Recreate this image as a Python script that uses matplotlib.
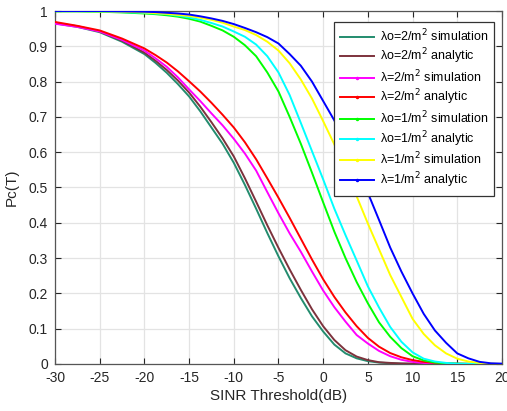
import matplotlib
matplotlib.use("Agg")
import matplotlib.pyplot as plt
from matplotlib.lines import Line2D

plt.rcParams['font.family'] = ['Liberation Sans', 'DejaVu Sans']
plt.rcParams['axes.unicode_minus'] = False

sinr_db = [-30, -27.5, -25, -22.5,
           -20, -18.75, -17.5, -16.25, -15, -13.75, -12.5, -11.25, -10, -8.75, -7.5, -6.25,
           -5, -3.75, -2.5, -1.25, 0, 1.25, 2.5, 3.75, 5, 6.25, 7.5, 8.75,
           10, 11.25, 12.5, 13.75, 15, 16.25, 17.5, 18.75, 20]

lo2_sim = [0.965, 0.955, 0.940, 0.913,
           0.878, 0.853, 0.825, 0.793, 0.758, 0.716, 0.670, 0.624, 0.570, 0.507, 0.440, 0.371,
           0.305, 0.243, 0.187, 0.135, 0.092, 0.055, 0.030, 0.016, 0.008, 0.004, 0.002, 0.001,
           0.0005, 0.0, 0.0, 0.0, 0.0, 0.0, 0.0, 0.0, 0.0]
lo2_ana = [0.966, 0.957, 0.942, 0.916,
           0.882, 0.859, 0.833, 0.803, 0.769, 0.729, 0.685, 0.639, 0.588, 0.526, 0.460, 0.393,
           0.329, 0.268, 0.210, 0.155, 0.107, 0.068, 0.039, 0.021, 0.011, 0.005, 0.003, 0.0015,
           0.001, 0.0, 0.0, 0.0, 0.0, 0.0, 0.0, 0.0, 0.0]
l2_sim = [0.964, 0.955, 0.942, 0.918,
          0.888, 0.866, 0.842, 0.812, 0.778, 0.745, 0.710, 0.676, 0.638, 0.596, 0.548, 0.487,
          0.427, 0.370, 0.318, 0.262, 0.208, 0.161, 0.120, 0.082, 0.058, 0.037, 0.022, 0.012,
          0.006, 0.003, 0.0015, 0.0005, 0.0, 0.0, 0.0, 0.0, 0.0]
l2_ana = [0.969, 0.958, 0.945, 0.922,
          0.894, 0.875, 0.854, 0.829, 0.801, 0.772, 0.740, 0.706, 0.670, 0.628, 0.580, 0.526,
          0.471, 0.414, 0.355, 0.296, 0.240, 0.190, 0.146, 0.107, 0.074, 0.049, 0.031, 0.019,
          0.011, 0.006, 0.003, 0.002, 0.001, 0.0005, 0.0, 0.0, 0.0]
lo1_sim = [0.999, 0.999, 0.998, 0.996,
           0.993, 0.991, 0.988, 0.984, 0.978, 0.970, 0.958, 0.945, 0.927, 0.903, 0.872, 0.826,
           0.772, 0.700, 0.624, 0.542, 0.458, 0.375, 0.300, 0.232, 0.172, 0.118, 0.077, 0.045,
           0.022, 0.010, 0.004, 0.002, 0.001, 0.0005, 0.0, 0.0, 0.0]
lo1_ana = [1.0, 1.0, 0.999, 0.997,
           0.995, 0.993, 0.991, 0.987, 0.982, 0.975, 0.966, 0.956, 0.942, 0.927, 0.905, 0.872,
           0.826, 0.762, 0.683, 0.603, 0.523, 0.440, 0.365, 0.293, 0.220, 0.160, 0.105, 0.063,
           0.033, 0.015, 0.007, 0.003, 0.001, 0.0005, 0.0, 0.0, 0.0]
l1_sim = [1.0, 1.0, 0.999, 0.998,
          0.996, 0.994, 0.992, 0.989, 0.986, 0.981, 0.975, 0.967, 0.956, 0.946, 0.932, 0.913,
          0.888, 0.852, 0.806, 0.752, 0.688, 0.622, 0.555, 0.475, 0.398, 0.325, 0.252, 0.190,
          0.128, 0.085, 0.053, 0.030, 0.015, 0.007, 0.003, 0.001, 0.0]
l1_ana = [1.0, 1.0, 1.0, 0.999,
          0.998, 0.997, 0.995, 0.993, 0.990, 0.985, 0.979, 0.972, 0.963, 0.952, 0.940, 0.926,
          0.908, 0.878, 0.845, 0.800, 0.745, 0.690, 0.627, 0.560, 0.485, 0.408, 0.330, 0.262,
          0.200, 0.142, 0.095, 0.060, 0.030, 0.016, 0.006, 0.002, 0.001]

series = [lo2_sim, lo2_ana, l2_sim, l2_ana, lo1_sim, lo1_ana, l1_sim, l1_ana]
labels = ["λo=2/m$^{2}$ simulation", "λo=2/m$^{2}$ analytic",
          "λ=2/m$^{2}$ simulation", "λ=2/m$^{2}$ analytic",
          "λo=1/m$^{2}$ simulation", "λo=1/m$^{2}$ analytic",
          "λ=1/m$^{2}$ simulation", "λ=1/m$^{2}$ analytic"]
colors = ["#238c6e", "#7d323c", "#ff00ff", "#ff0000", "#00ff00", "#00ffff", "#ffff00", "#0000ff"]
has_marker = [False, False, True, True, True, True, True, True]

x_ticks = [-30, -25, -20, -15, -10, -5, 0, 5, 10, 15, 20]
y_ticks = [0, 0.1, 0.2, 0.3, 0.4, 0.5, 0.6, 0.7, 0.8, 0.9, 1]
y_tick_labels = ["0", "0.1", "0.2", "0.3", "0.4", "0.5", "0.6", "0.7", "0.8", "0.9", "1"]

fig = plt.figure(figsize=(5.07, 4.11), dpi=100)
ax = fig.add_axes([0.1085, 0.1144, 0.8815, 0.8588])

for s, c in zip(series, colors):
    ax.plot(sinr_db, s, color=c, lw=1.4, zorder=3, solid_joinstyle="round")

ax.set_xlim(-30, 20)
ax.set_ylim(0, 1)
ax.set_xticks(x_ticks)
ax.set_yticks(y_ticks)
ax.set_yticklabels(y_tick_labels)
ax.grid(True, color="#e3e3e3", lw=0.9)
ax.set_axisbelow(True)
ax.tick_params(direction="in", length=4, width=0.8, colors="#262626", labelsize=10,
               top=True, right=True, pad=5)
for sp in ax.spines.values():
    sp.set_color("#555555")
    sp.set_linewidth(0.9)

ax.set_xlabel("SINR Threshold(dB)", fontsize=11, color="#262626", labelpad=3)
ax.set_ylabel("Pc(T)", fontsize=11, color="#262626", labelpad=7)

handles = [Line2D([0], [0], color=c, lw=1.4, marker='.' if m else None, markersize=3)
           for c, m in zip(colors, has_marker)]
leg = ax.legend(handles, labels, loc="upper right", bbox_to_anchor=(0.982, 0.969),
                borderaxespad=0, fontsize=9, labelspacing=0.2, handlelength=2.7,
                handletextpad=0.5, borderpad=0.45, fancybox=False, framealpha=1,
                edgecolor="#333333")
leg.get_frame().set_linewidth(0.9)

fig.savefig("out.png", dpi=100)
